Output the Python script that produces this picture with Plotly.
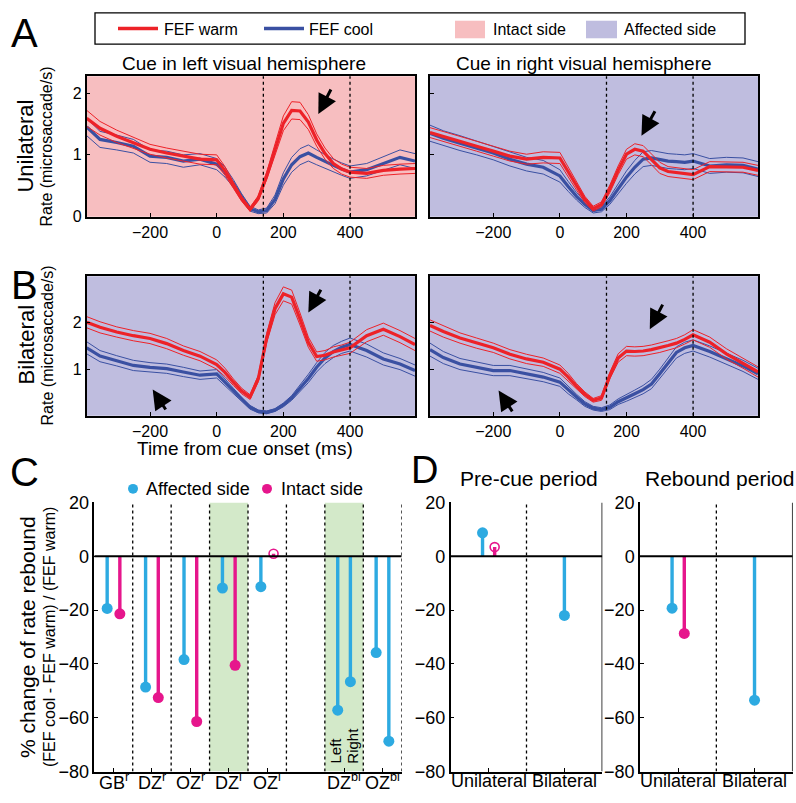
import plotly.graph_objects as go

W, H = 796, 803

# time grid (ms) shared by all rate traces
t_ms = [-390, -350, -300, -250, -200, -150, -100, -50, 0, 25, 50, 75, 100, 125, 150,
        175, 200, 225, 250, 275, 300, 325, 350, 375, 400, 450, 500, 550, 595]

# A: unilateral, cue left (intact side) / cue right (affected side)
a_left_warm = [1.59, 1.43, 1.30, 1.19, 1.09, 1.03, 0.98, 0.93, 0.92, 0.74, 0.51, 0.29, 0.12, 0.30, 0.66,
               1.10, 1.51, 1.72, 1.71, 1.53, 1.24, 1.02, 0.86, 0.77, 0.72, 0.70, 0.75, 0.77, 0.78]
a_left_cool = [1.45, 1.25, 1.20, 1.14, 0.98, 0.96, 0.90, 0.93, 0.85, 0.72, 0.54, 0.32, 0.13, 0.08, 0.10,
               0.28, 0.61, 0.84, 0.97, 1.03, 0.96, 0.89, 0.83, 0.77, 0.72, 0.76, 0.86, 0.96, 0.90]
a_right_warm = [1.36, 1.30, 1.22, 1.14, 1.06, 0.98, 0.93, 0.96, 0.95, 0.72, 0.49, 0.28, 0.13, 0.20, 0.45,
                0.75, 1.01, 1.09, 1.06, 0.93, 0.79, 0.73, 0.71, 0.69, 0.68, 0.81, 0.81, 0.80, 0.75]
a_right_cool = [1.35, 1.27, 1.19, 1.11, 1.03, 0.93, 0.85, 0.80, 0.66, 0.49, 0.33, 0.20, 0.10, 0.12, 0.26,
                0.45, 0.64, 0.80, 0.93, 0.95, 0.92, 0.90, 0.89, 0.88, 0.90, 0.82, 0.84, 0.83, 0.77]
# B: bilateral
b_left_warm = [2.01, 1.90, 1.80, 1.72, 1.66, 1.55, 1.40, 1.28, 1.10, 0.93, 0.72, 0.53, 0.40, 0.80, 1.67,
               2.30, 2.62, 2.55, 2.08, 1.58, 1.27, 1.30, 1.37, 1.41, 1.46, 1.72, 1.86, 1.70, 1.53]
b_left_cool = [1.46, 1.28, 1.18, 1.08, 1.04, 1.01, 0.94, 0.87, 0.90, 0.72, 0.53, 0.34, 0.18, 0.09, 0.07,
               0.12, 0.23, 0.38, 0.58, 0.80, 1.04, 1.24, 1.38, 1.47, 1.53, 1.40, 1.22, 1.11, 0.97]
b_right_warm = [1.94, 1.81, 1.67, 1.56, 1.46, 1.32, 1.22, 1.15, 1.00, 0.83, 0.63, 0.46, 0.33, 0.38, 0.86,
                1.24, 1.39, 1.38, 1.39, 1.42, 1.46, 1.51, 1.56, 1.64, 1.74, 1.58, 1.33, 1.13, 0.94]
b_right_cool = [1.42, 1.25, 1.11, 1.04, 0.97, 0.97, 0.90, 0.83, 0.72, 0.55, 0.40, 0.25, 0.16, 0.13, 0.18,
                0.30, 0.38, 0.47, 0.56, 0.68, 0.90, 1.13, 1.36, 1.46, 1.51, 1.38, 1.22, 1.07, 0.90]

# s.e.m. half widths
a_left_warm_sem = [0.13, 0.11, 0.10, 0.09, 0.08, 0.08, 0.08, 0.08, 0.08, 0.07, 0.05, 0.04, 0.03, 0.04, 0.06,
                   0.09, 0.12, 0.14, 0.14, 0.12, 0.10, 0.09, 0.08, 0.08, 0.08, 0.08, 0.08, 0.08, 0.08]
a_left_cool_sem = [0.14, 0.13, 0.12, 0.11, 0.10, 0.10, 0.10, 0.09, 0.09, 0.08, 0.06, 0.05, 0.04, 0.03, 0.04,
                   0.07, 0.10, 0.12, 0.13, 0.13, 0.12, 0.11, 0.10, 0.10, 0.10, 0.10, 0.11, 0.12, 0.12]
a_right_warm_sem = [0.08, 0.08, 0.08, 0.08, 0.08, 0.08, 0.08, 0.09, 0.09, 0.08, 0.06, 0.05, 0.04, 0.04, 0.06,
                    0.07, 0.08, 0.09, 0.09, 0.09, 0.09, 0.08, 0.08, 0.08, 0.08, 0.08, 0.08, 0.08, 0.08]
a_right_cool_sem = [0.13, 0.12, 0.12, 0.11, 0.11, 0.11, 0.11, 0.11, 0.10, 0.08, 0.06, 0.05, 0.04, 0.04, 0.06,
                    0.08, 0.10, 0.11, 0.12, 0.12, 0.12, 0.12, 0.12, 0.12, 0.12, 0.12, 0.12, 0.12, 0.12]
b_left_warm_sem = [0.12, 0.12, 0.11, 0.11, 0.11, 0.11, 0.10, 0.10, 0.10, 0.09, 0.07, 0.06, 0.05, 0.07, 0.10,
                   0.13, 0.15, 0.15, 0.13, 0.11, 0.10, 0.10, 0.11, 0.11, 0.12, 0.13, 0.13, 0.13, 0.13]
b_left_cool_sem = [0.13, 0.12, 0.11, 0.11, 0.10, 0.10, 0.10, 0.09, 0.09, 0.08, 0.06, 0.05, 0.04, 0.03, 0.03,
                   0.03, 0.04, 0.05, 0.07, 0.09, 0.10, 0.12, 0.13, 0.13, 0.14, 0.14, 0.13, 0.12, 0.12]
b_right_warm_sem = [0.12, 0.12, 0.11, 0.11, 0.10, 0.10, 0.10, 0.09, 0.09, 0.08, 0.06, 0.05, 0.04, 0.05, 0.07,
                    0.09, 0.10, 0.10, 0.10, 0.10, 0.10, 0.10, 0.10, 0.10, 0.11, 0.11, 0.11, 0.11, 0.11]
b_right_cool_sem = [0.14, 0.13, 0.12, 0.11, 0.11, 0.11, 0.10, 0.10, 0.09, 0.08, 0.06, 0.05, 0.04, 0.04, 0.05,
                    0.06, 0.07, 0.08, 0.09, 0.10, 0.10, 0.11, 0.12, 0.12, 0.12, 0.12, 0.12, 0.12, 0.12]

# C: % change of rate rebound per animal/condition
c_labels = ["GB<sup>r</sup>", "DZ<sup>r</sup>", "OZ<sup>r</sup>", "DZ<sup>l</sup>", "OZ<sup>l</sup>",
            "DZ<sup>bi</sup>", "OZ<sup>bi</sup>"]
c_pos = [1, 2, 3, 4, 5, 7, 8]
uni_affected = [-19.4, -48.6, -38.4, -11.8, -11.3]
uni_intact = [-21.4, -52.5, -61.4, -40.5, 0.9]
uni_intact_sig = [True, True, True, True, False]
bi_left = [-57.2, -35.8]
bi_right = [-46.6, -68.7]

# D: population summary
d_cats = ["Unilateral", "Bilateral"]
precue_affected = [8.7, -22.0]
precue_intact = [3.4]
rebound_affected = [-19.3, -53.5]
rebound_intact = [-28.7]

RED = "#ED2228"
BLUE = "#3A50A2"
PINK_BG = "#F7BEC0"
PURP_BG = "#BFBDDF"
GREEN_BG = "#D3E9C9"
CYAN = "#2DAAE1"
MAG = "#E6168C"
FONT = "Arial, Liberation Sans, sans-serif"


def px(x):
    return x / W


def py(y):
    return 1 - y / H


fig = go.Figure()
shapes = []
annos = []

# subplot boxes in pixels: x0, x1, y_top, y_bottom
boxes = {
    1: (86.7, 415, 68, 212),
    2: (430, 758, 68, 212),
    3: (86.7, 415, 273, 416),
    4: (430, 758, 273, 416),
    5: (94.3, 401.7, 505, 781),
    6: (450.7, 602.3, 505, 781),
    7: (640, 792.7, 505, 781),
}


def ax_names(i):
    return ("x" if i == 1 else "x%d" % i), ("y" if i == 1 else "y%d" % i)


layout_axes = {}
for i, (x0, x1, yt, yb) in boxes.items():
    xn, yn = ax_names(i)
    layout_axes["xaxis" if i == 1 else "xaxis%d" % i] = dict(
        domain=[px(x0), px(x1)], anchor=yn, showgrid=False, zeroline=False,
        showline=True, linecolor="black", linewidth=1.5, ticks="inside", ticklen=4,
        tickcolor="black", tickfont=dict(size=16, color="black", family=FONT))
    layout_axes["yaxis" if i == 1 else "yaxis%d" % i] = dict(
        domain=[py(yb), py(yt)], anchor=xn, showgrid=False, zeroline=False,
        showline=True, linecolor="black", linewidth=1.5, ticks="inside", ticklen=4,
        tickcolor="black", tickfont=dict(size=16, color="black", family=FONT))

# rate panels
rate_panels = [
    (1, a_left_warm, a_left_warm_sem, a_left_cool, a_left_cool_sem, PINK_BG, [0, 2.27], [0, 1, 2], True),
    (2, a_right_warm, a_right_warm_sem, a_right_cool, a_right_cool_sem, PURP_BG, [0, 2.27], [0, 1, 2], False),
    (3, b_left_warm, b_left_warm_sem, b_left_cool, b_left_cool_sem, PURP_BG, [0, 3.0], [1, 2], True),
    (4, b_right_warm, b_right_warm_sem, b_right_cool, b_right_cool_sem, PURP_BG, [0, 3.0], [1, 2], False),
]
for i, warm, warm_sem, cool, cool_sem, bg, yr, yt, lab in rate_panels:
    xn, yn = ax_names(i)
    xa = layout_axes["xaxis" if i == 1 else "xaxis%d" % i]
    ya = layout_axes["yaxis" if i == 1 else "yaxis%d" % i]
    xa.update(range=[-390, 595], mirror=True, tickvals=[-200, 0, 200, 400])
    ya.update(range=yr, mirror=True, tickvals=yt, showticklabels=lab)
    shapes.append(dict(type="rect", xref=xn + " domain", yref=yn + " domain", x0=0, x1=1, y0=0, y1=1,
                       fillcolor=bg, line=dict(width=0), layer="below"))
    for tv in (140, 400):
        shapes.append(dict(type="line", xref=xn, yref=yn + " domain", x0=tv, x1=tv, y0=0, y1=1,
                           line=dict(color="black", width=1.3, dash="dot")))
    for mean, sem, col in ((cool, cool_sem, BLUE), (warm, warm_sem, RED)):
        up = [m + s for m, s in zip(mean, sem)]
        lo = [m - s for m, s in zip(mean, sem)]
        for yy in (up, lo):
            fig.add_trace(go.Scatter(x=t_ms, y=yy, mode="lines", line=dict(color=col, width=1),
                                     xaxis=xn, yaxis=yn, showlegend=False, hoverinfo="skip"))
        fig.add_trace(go.Scatter(x=t_ms, y=mean, mode="lines", line=dict(color=col, width=3.2),
                                 xaxis=xn, yaxis=yn, showlegend=False))

# arrows (head x,y ; tail ax,ay) in data units
arrows = [(1, 305, 1.66, 345, 2.08), (2, 245, 1.31, 288, 1.73),
          (3, 275, 2.22, 315, 2.74), (3, -192, 0.56, -150, 0.10),
          (4, 270, 1.86, 311, 2.42), (4, -184, 0.54, -140, 0.06)]
for i, hx, hy, tx, ty in arrows:
    xn, yn = ax_names(i)
    annos.append(dict(x=hx, y=hy, ax=tx, ay=ty, xref=xn, yref=yn, axref=xn, ayref=yn, text="",
                      showarrow=True, arrowhead=2, arrowsize=1.3, arrowwidth=3, arrowcolor="black"))

# C panel
xa5 = layout_axes["xaxis5"]
ya5 = layout_axes["yaxis5"]
xa5.update(range=[0.5, 8.5], tickvals=c_pos, showticklabels=False)
ya5.update(range=[-80, 20], tickvals=[-80, -60, -40, -20, 0, 20],
           tickfont=dict(size=18, color="black", family=FONT))
for g0 in (3.5, 6.5):
    shapes.append(dict(type="rect", xref="x5", yref="y5", x0=g0, x1=g0 + 1, y0=-80, y1=20,
                       fillcolor=GREEN_BG, line=dict(width=0), layer="below"))
for sep in (1.5, 2.5, 3.5, 4.5, 5.5, 6.5, 7.5, 8.5):
    shapes.append(dict(type="line", xref="x5", yref="y5", x0=sep, x1=sep, y0=-80, y1=20,
                       line=dict(color="black", width=1.3, dash="dot")))
shapes.append(dict(type="line", xref="x5", yref="y5", x0=0.5, x1=8.5, y0=0, y1=0,
                   line=dict(color="black", width=2)))
for lab, p in zip(c_labels, c_pos):
    annos.append(dict(x=p, y=py(791), xref="x5", yref="paper", text=lab, showarrow=False,
                      xanchor="center", yanchor="middle", font=dict(size=18, color="black", family=FONT)))


def stems(xs, ys, col, xn, yn, filled):
    sx, sy = [], []
    for x, y in zip(xs, ys):
        sx += [x, x, None]
        sy += [0, y, None]
    fig.add_trace(go.Scatter(x=sx, y=sy, mode="lines", line=dict(color=col, width=3.4),
                             xaxis=xn, yaxis=yn, showlegend=False, hoverinfo="skip"))
    if filled:
        mk = dict(color=col, size=11, symbol="circle")
    else:
        mk = dict(color=col, size=9, symbol="circle-open", line=dict(width=1.6, color=col))
    fig.add_trace(go.Scatter(x=xs, y=ys, mode="markers", marker=mk, xaxis=xn, yaxis=yn,
                             showlegend=False))


off = 0.165
uni_pos = c_pos[:5]
bi_pos = c_pos[5:]
stems([p - off for p in uni_pos], uni_affected, CYAN, "x5", "y5", True)
sig_x = [p + off for p, s in zip(uni_pos, uni_intact_sig) if s]
sig_y = [v for v, s in zip(uni_intact, uni_intact_sig) if s]
ns_x = [p + off for p, s in zip(uni_pos, uni_intact_sig) if not s]
ns_y = [v for v, s in zip(uni_intact, uni_intact_sig) if not s]
stems(sig_x, sig_y, MAG, "x5", "y5", True)
stems(ns_x, ns_y, MAG, "x5", "y5", False)
stems([p - off for p in bi_pos], bi_left, CYAN, "x5", "y5", True)
stems([p + off for p in bi_pos], bi_right, CYAN, "x5", "y5", True)
for txt, xx in (("Left", 7 - 0.21), ("Right", 7 + 0.21)):
    annos.append(dict(x=xx, y=-80, xref="x5", yref="y5", text=txt, showarrow=False, textangle=-90,
                      xanchor="center", yanchor="bottom", yshift=6,
                      font=dict(size=15, color="black", family=FONT)))

# D panels
d_off = 0.08
for i, aff, intact, intact_filled in ((6, precue_affected, precue_intact, False),
                                     (7, rebound_affected, rebound_intact, True)):
    xn, yn = ax_names(i)
    xa = layout_axes["xaxis%d" % i]
    ya = layout_axes["yaxis%d" % i]
    xa.update(range=[0.5, 2.5], tickvals=[1, 2], showticklabels=False)
    ya.update(range=[-80, 20], tickvals=[-80, -60, -40, -20, 0, 20],
              tickfont=dict(size=18, color="black", family=FONT))
    shapes.append(dict(type="line", xref=xn, yref=yn, x0=1.5, x1=1.5, y0=-80, y1=20,
                       line=dict(color="black", width=1.3, dash="dot")))
    shapes.append(dict(type="line", xref=xn, yref=yn, x0=2.5, x1=2.5, y0=-80, y1=20,
                       line=dict(color="black", width=1.5)))
    shapes.append(dict(type="line", xref=xn, yref=yn, x0=0.5, x1=2.5, y0=0, y1=0,
                       line=dict(color="black", width=2)))
    for lab, p in zip(d_cats, [1, 2]):
        annos.append(dict(x=p, y=py(791), xref=xn, yref="paper", text=lab, showarrow=False,
                          xanchor="center", yanchor="middle", font=dict(size=18, color="black", family=FONT)))
    stems([1 - d_off, 2], aff, CYAN, xn, yn, True)
    stems([1 + d_off], intact, MAG, xn, yn, intact_filled)

# top legend
shapes.append(dict(type="rect", xref="paper", yref="paper", x0=px(95), x1=px(745), y0=py(35), y1=py(3),
                   line=dict(color="black", width=1.3), fillcolor="white"))
shapes.append(dict(type="line", xref="paper", yref="paper", x0=px(118), x1=px(158), y0=py(19), y1=py(19),
                   line=dict(color=RED, width=3.5)))
shapes.append(dict(type="line", xref="paper", yref="paper", x0=px(264), x1=px(304), y0=py(19), y1=py(19),
                   line=dict(color=BLUE, width=3.5)))
shapes.append(dict(type="rect", xref="paper", yref="paper", x0=px(455), x1=px(485), y0=py(29), y1=py(11),
                   fillcolor=PINK_BG, line=dict(width=0)))
shapes.append(dict(type="rect", xref="paper", yref="paper", x0=px(586), x1=px(617), y0=py(29), y1=py(11),
                   fillcolor=PURP_BG, line=dict(width=0)))
for txt, x0 in (("FEF warm", 162), ("FEF cool", 307), ("Intact side", 491), ("Affected side", 622)):
    annos.append(dict(x=px(x0), y=py(20), xref="paper", yref="paper", text=txt, showarrow=False,
                      xanchor="left", yanchor="middle", font=dict(size=16, color="black", family=FONT)))

# C legend
shapes.append(dict(type="circle", xref="paper", yref="paper", x0=px(128), x1=px(138), y0=py(496), y1=py(486),
                   fillcolor=CYAN, line=dict(width=0)))
shapes.append(dict(type="circle", xref="paper", yref="paper", x0=px(262), x1=px(272), y0=py(496), y1=py(486),
                   fillcolor=MAG, line=dict(width=0)))
for txt, x0 in (("Affected side", 144), ("Intact side", 279)):
    annos.append(dict(x=px(x0), y=py(491), xref="paper", yref="paper", text=txt, showarrow=False,
                      xanchor="left", yanchor="middle", font=dict(size=18, color="black", family=FONT)))

# texts in pixel positions: text, x, y, size, angle
texts = [
    ("A", 24, 24, 40, 0), ("B", 24, 282, 40, 0), ("C", 24, 474, 40, 0), ("D", 424, 472, 38, 0),
    ("Cue in left visual hemisphere", 244, 55, 19, 0),
    ("Cue in right visual hemisphere", 584, 55, 19, 0),
    ("Unilateral", 26, 140, 22, -90), ("Rate (microsaccade/s)", 47, 140, 16, -90),
    ("Bilateral", 26, 344, 22, -90), ("Rate (microsaccade/s)", 47, 344, 16, -90),
    ("Time from cue onset (ms)", 245, 450, 19, 0),
    ("Pre-cue period", 529, 480, 21, 0), ("Rebound period", 719, 480, 21, 0),
    ("% change of rate rebound", 28, 643, 21, -90),
    ("(FEF cool - FEF warm) / (FEF warm)", 50, 643, 16, -90),
]
for txt, x, y, s, ang in texts:
    annos.append(dict(x=px(x), y=py(y), xref="paper", yref="paper", text=txt, showarrow=False,
                      xanchor="center", yanchor="middle", textangle=ang,
                      font=dict(size=s, color="black", family=FONT)))

fig.update_layout(width=W, height=H, margin=dict(l=0, r=0, t=0, b=0), paper_bgcolor="white",
                  plot_bgcolor="rgba(0,0,0,0)", showlegend=False, shapes=shapes, annotations=annos,
                  font=dict(family=FONT, color="black"), **layout_axes)
# the page body has a default 8px margin; drop it so the figure sits at the window corner
fig.write_html("out.html", config={"displayModeBar": False},
               post_script="document.body.style.margin='0px';")
